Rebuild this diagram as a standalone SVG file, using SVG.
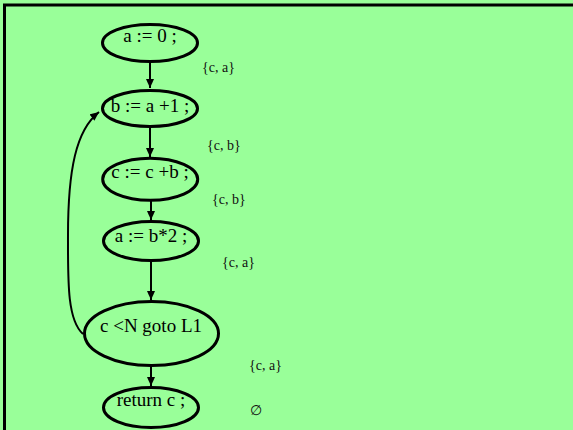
<svg xmlns="http://www.w3.org/2000/svg" width="573" height="430" viewBox="0 0 573 430">
  <style>
    .node ellipse { fill: none; stroke: #000; stroke-width: 3; }
    .node text { font-family: "Liberation Serif", "Times New Roman", serif; font-size: 19px; fill: #000; text-anchor: middle; }
    .edge { fill: none; stroke: #000; stroke-width: 2; marker-end: url(#arrow); }
    .live { font-family: "Liberation Serif", "Times New Roman", serif; font-size: 14px; fill: #111; }
  </style>
  <defs>
    <marker id="arrow" markerUnits="userSpaceOnUse" markerWidth="10" markerHeight="8" refX="9" refY="4" orient="auto">
      <path d="M0,0 L9,4 L0,8 z" fill="#000"/>
    </marker>
  </defs>

  <!-- background and frame -->
  <rect x="0" y="0" width="573" height="430" fill="#99ff99"/>
  <rect x="4.5" y="5" width="620" height="480" fill="none" stroke="#000" stroke-width="3"/>

  <!-- control-flow edges -->
  <g id="edges">
    <line class="edge" x1="150" y1="62" x2="150" y2="88"/>
    <line class="edge" x1="150" y1="127" x2="150" y2="157"/>
    <line class="edge" x1="151" y1="201" x2="151" y2="220"/>
    <line class="edge" x1="151" y1="261" x2="151" y2="300"/>
    <line class="edge" x1="151" y1="366" x2="151" y2="386"/>
    <path class="edge" d="M83,334 C67,320 68,280 68,235 C68,170 76,130 99,112"/>
  </g>

  <!-- statements -->
  <g id="n1" class="node">
    <ellipse cx="150" cy="43" rx="47.5" ry="18.5"/>
    <text x="150" y="42">a := 0 ;</text>
  </g>
  <g id="n2" class="node">
    <ellipse cx="150" cy="108.5" rx="47.5" ry="18"/>
    <text x="150" y="112">b := a +1 ;</text>
  </g>
  <g id="n3" class="node">
    <ellipse cx="150.2" cy="179.2" rx="47.5" ry="21"/>
    <text x="150" y="178">c := c +b ;</text>
  </g>
  <g id="n4" class="node">
    <ellipse cx="151" cy="241" rx="47.5" ry="19.5"/>
    <text x="151" y="242">a := b*2 ;</text>
  </g>
  <g id="n5" class="node">
    <ellipse cx="151.5" cy="333.5" rx="67" ry="32"/>
    <text x="151" y="332">c &lt;N goto L1</text>
  </g>
  <g id="n6" class="node">
    <ellipse cx="151" cy="407.5" rx="47.5" ry="20"/>
    <text x="151" y="406">return c ;</text>
  </g>

  <!-- live-variable sets -->
  <g id="sets">
    <text class="live" x="202" y="72">{c, a}</text>
    <text class="live" x="207" y="150">{c, b}</text>
    <text class="live" x="212" y="204">{c, b}</text>
    <text class="live" x="222" y="267">{c, a}</text>
    <text class="live" x="249" y="370">{c, a}</text>
    <text class="live" x="250" y="415">∅</text>
  </g>
</svg>
